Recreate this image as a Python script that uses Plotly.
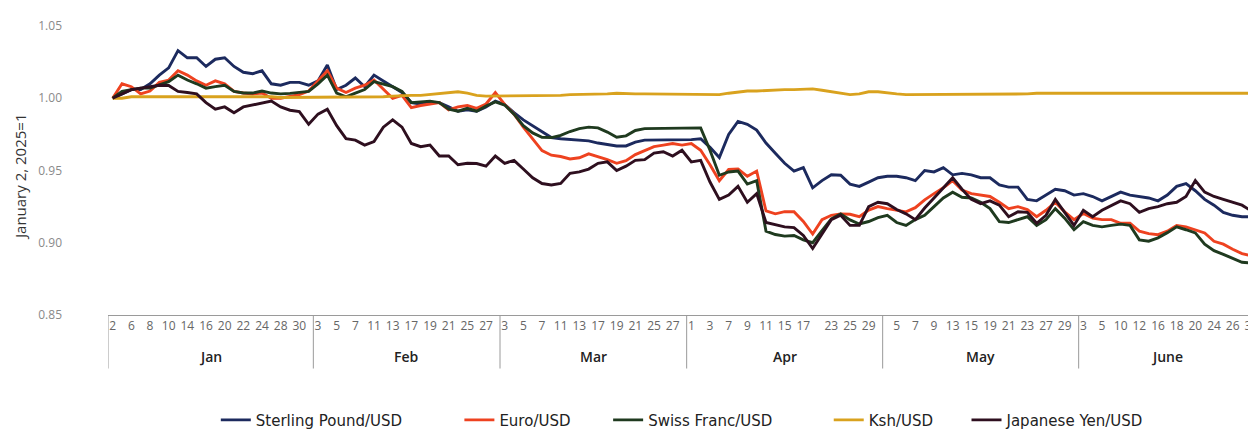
import plotly.graph_objects as go

# ---------------- data ----------------
months = ["Jan", "Feb", "Mar", "Apr", "May", "June"]
days_jan = [2, 3, 6, 7, 8, 9, 10, 13, 14, 15, 16, 17, 20, 21, 22, 23, 24, 27, 28, 29, 30, 31]
days_feb = [3, 4, 5, 6, 7, 10, 11, 12, 13, 14, 17, 18, 19, 20, 21, 24, 25, 26, 27, 28]
days_mar = [3, 4, 5, 6, 7, 10, 11, 12, 13, 14, 17, 18, 19, 20, 21, 24, 25, 26, 27, 28]
days_apr = [1, 2, 3, 4, 7, 8, 9, 10, 11, 14, 15, 16, 17, 21, 22, 23, 24, 25, 28, 29, 30]
days_may = [2, 5, 6, 7, 8, 9, 12, 13, 14, 15, 16, 19, 20, 21, 22, 23, 26, 27, 28, 29, 30]
days_jun = [3, 4, 5, 9, 10, 11, 12, 13, 16, 17, 18, 19, 20, 23, 24, 25, 26, 27, 30]
days_by_month = [days_jan, days_feb, days_mar, days_apr, days_may, days_jun]

# day numbers printed on the axis, per month
labels_jan = [2, 6, 8, 10, 14, 16, 20, 22, 24, 28, 30]
labels_feb = [3, 5, 7, 11, 13, 17, 19, 21, 25, 27]
labels_mar = [3, 5, 7, 11, 13, 17, 19, 21, 25, 27]
labels_apr = [1, 3, 7, 9, 11, 15, 17, 23, 25, 29]
labels_may = [5, 7, 9, 13, 15, 19, 21, 23, 27, 29]
labels_jun = [3, 5, 10, 12, 16, 18, 20, 24, 26, 30]
labels_by_month = [labels_jan, labels_feb, labels_mar, labels_apr, labels_may, labels_jun]

sterling = [
    1.000, 1.003, 1.006, 1.006, 1.010, 1.016, 1.021, 1.033, 1.028, 1.028, 1.022, 1.027, 1.028, 1.022, 1.018, 1.017, 1.019, 1.010, 1.009, 1.011, 1.011, 1.009,
    1.012, 1.023, 1.006, 1.009, 1.014, 1.008, 1.016, 1.012, 1.008, 1.004, 0.997, 0.996, 0.997, 0.997, 0.994, 0.991, 0.992, 0.991, 0.994, 0.998,
    0.9957, 0.990, 0.985, 0.981, 0.9766, 0.9728, 0.972, 0.9714, 0.971, 0.9705, 0.969, 0.968, 0.967, 0.967, 0.9696, 0.971, 0.971, 0.971, 0.971, 0.971,
    0.9714, 0.972, 0.966, 0.959, 0.975, 0.984, 0.982, 0.978, 0.969, 0.962, 0.955, 0.9496, 0.952, 0.938, 0.943, 0.947, 0.9467, 0.9406, 0.939, 0.942, 0.945,
    0.946, 0.946, 0.945, 0.943, 0.950, 0.949, 0.952, 0.947, 0.948, 0.947, 0.945, 0.945, 0.940, 0.9385, 0.9385, 0.930, 0.929, 0.933, 0.937, 0.936, 0.933,
    0.934, 0.932, 0.929, 0.932, 0.935, 0.933, 0.932, 0.931, 0.929, 0.933, 0.939, 0.941, 0.936, 0.930, 0.926, 0.921, 0.919, 0.918, 0.918,
]
euro = [
    1.000, 1.010, 1.008, 1.003, 1.005, 1.011, 1.0126, 1.019, 1.016, 1.012, 1.009, 1.012, 1.010, 1.0047, 1.0036, 1.003, 1.0036, 1.000, 1.000, 1.001, 1.0025, 1.005,
    1.012, 1.019, 1.007, 1.004, 1.007, 1.009, 1.0126, 1.006, 1.000, 1.002, 0.9935, 0.995, 0.996, 0.997, 0.992, 0.994, 0.995, 0.993, 0.996, 1.004,
    0.9957, 0.989, 0.980, 0.972, 0.9638, 0.9606, 0.9597, 0.958, 0.9588, 0.9615, 0.9597, 0.9575, 0.955, 0.9568, 0.961, 0.964, 0.9665, 0.9676, 0.9687, 0.9676,
    0.9687, 0.964, 0.954, 0.943, 0.9507, 0.951, 0.946, 0.9496, 0.922, 0.920, 0.9215, 0.9215, 0.9147, 0.906, 0.916, 0.919, 0.920, 0.9197, 0.918, 0.9226, 0.925,
    0.9236, 0.9225, 0.9214, 0.9243, 0.9297, 0.934, 0.938, 0.943, 0.9365, 0.934, 0.933, 0.932, 0.928, 0.9236, 0.925, 0.923, 0.918, 0.9225, 0.928, 0.9214, 0.916,
    0.9203, 0.917, 0.916, 0.916, 0.9135, 0.9135, 0.908, 0.9063, 0.9056, 0.908, 0.912, 0.911, 0.909, 0.9068, 0.901, 0.899, 0.8955, 0.8925, 0.891,
]
swiss = [
    1.000, 1.0047, 1.006, 1.007, 1.007, 1.009, 1.0115, 1.016, 1.0126, 1.010, 1.007, 1.008, 1.009, 1.0047, 1.0036, 1.0036, 1.005, 1.0036, 1.003, 1.0034, 1.004, 1.0047,
    1.010, 1.016, 1.0036, 1.001, 1.0036, 1.006, 1.0115, 1.010, 1.008, 1.0047, 0.997, 0.9975, 0.998, 0.997, 0.9924, 0.991, 0.993, 0.991, 0.9946, 0.9975,
    0.9953, 0.989, 0.981, 0.976, 0.973, 0.9728, 0.9743, 0.977, 0.979, 0.980, 0.9795, 0.9766, 0.973, 0.974, 0.9777, 0.979, 0.979, 0.979, 0.979, 0.979,
    0.979, 0.9795, 0.964, 0.9467, 0.949, 0.9496, 0.9406, 0.943, 0.908, 0.9057, 0.9046, 0.905, 0.902, 0.900, 0.9084, 0.9165, 0.920, 0.9158, 0.913, 0.9147, 0.9174,
    0.919, 0.914, 0.912, 0.916, 0.919, 0.925, 0.931, 0.935, 0.9315, 0.931, 0.928, 0.9236, 0.9146, 0.914, 0.9162, 0.918, 0.912, 0.916, 0.9236, 0.917, 0.909,
    0.9146, 0.912, 0.911, 0.912, 0.9129, 0.912, 0.902, 0.9011, 0.9034, 0.907, 0.911, 0.909, 0.9068, 0.899, 0.8945, 0.892, 0.889, 0.8865, 0.886,
]
ksh = [
    1.000, 1.000, 1.001, 1.001, 1.001, 1.001, 1.0015, 1.0015, 1.0015, 1.0015, 1.0015, 1.0015, 1.001, 1.001, 1.001, 1.001, 1.001, 1.001, 1.0005, 1.0005, 1.0005, 1.001,
    1.001, 1.001, 1.001, 1.001, 1.001, 1.001, 1.0005, 1.001, 1.0015, 1.002, 1.002, 1.002, 1.0025, 1.003, 1.004, 1.0045, 1.0035, 1.002, 1.0015, 1.0015,
    1.0015, 1.0015, 1.0015, 1.0015, 1.0015, 1.0015, 1.002, 1.0025, 1.0025, 1.0025, 1.003, 1.003, 1.0035, 1.003, 1.003, 1.003, 1.003, 1.003, 1.0025, 1.0025,
    1.0025, 1.0025, 1.0025, 1.0025, 1.0035, 1.0045, 1.005, 1.005, 1.0055, 1.0055, 1.006, 1.006, 1.006, 1.0065, 1.0055, 1.0045, 1.003, 1.0025, 1.003, 1.0045, 1.0045,
    1.0035, 1.003, 1.0025, 1.0025, 1.0025, 1.0025, 1.0025, 1.003, 1.003, 1.003, 1.003, 1.003, 1.003, 1.003, 1.003, 1.003, 1.0035, 1.0035, 1.0035, 1.0035, 1.0035,
    1.0035, 1.0035, 1.0035, 1.0035, 1.0035, 1.0035, 1.0035, 1.0035, 1.0035, 1.004, 1.004, 1.004, 1.004, 1.004, 1.004, 1.004, 1.004, 1.004, 1.0035,
]
yen = [
    1.000, 1.003, 1.006, 1.007, 1.008, 1.009, 1.0088, 1.0047, 1.004, 1.003, 0.997, 0.9924, 0.994, 0.990, 0.994, 0.9953, 0.997, 0.998, 0.994, 0.9917, 0.9908, 0.982,
    0.989, 0.9924, 0.981, 0.972, 0.971, 0.9676, 0.970, 0.980, 0.985, 0.980, 0.9687, 0.9665, 0.9676, 0.960, 0.960, 0.954, 0.955, 0.9548, 0.953, 0.960,
    0.955, 0.957, 0.951, 0.945, 0.941, 0.940, 0.941, 0.948, 0.949, 0.951, 0.955, 0.956, 0.950, 0.953, 0.957, 0.9575, 0.962, 0.963, 0.960, 0.964,
    0.956, 0.957, 0.942, 0.930, 0.933, 0.939, 0.928, 0.934, 0.914, 0.9125, 0.911, 0.9105, 0.905, 0.896, 0.906, 0.916, 0.919, 0.912, 0.912, 0.925, 0.928,
    0.927, 0.923, 0.920, 0.916, 0.924, 0.931, 0.938, 0.945, 0.937, 0.930, 0.927, 0.929, 0.926, 0.918, 0.9214, 0.921, 0.9135, 0.919, 0.930, 0.9214, 0.912,
    0.9225, 0.918, 0.9225, 0.926, 0.929, 0.927, 0.921, 0.9236, 0.925, 0.927, 0.928, 0.932, 0.943, 0.935, 0.932, 0.930, 0.928, 0.926, 0.922,
]

series_names = ["Sterling Pound/USD", "Euro/USD", "Swiss Franc/USD", "Ksh/USD", "Japanese Yen/USD"]
series_values = [sterling, euro, swiss, ksh, yen]
series_colors = ["#1c2a5e", "#ee4220", "#1f3a1f", "#d9a21e", "#2e0f1f"]

y_ticks = [0.85, 0.90, 0.95, 1.00, 1.05]

# ---------------- build category positions ----------------
x_idx = []
tickvals, ticktext = [], []
month_bounds = [-0.5]
month_centers = []
pos = 0
for m, days, labs in zip(months, days_by_month, labels_by_month):
    start = pos
    for d in days:
        x_idx.append(pos)
        if d in labs:
            tickvals.append(pos)
            ticktext.append(str(d))
        pos += 1
    month_bounds.append(pos - 0.5)
    month_centers.append((start + pos - 1) / 2)

FONT = "Open Sans"
LEGFONT = "DejaVu Sans"
plot_w = 1256 - 100 - 6
plot_h = 434 - 18 - 119

# legend entry left edges (pixels) so that the entries spread like the original
legend_px = [208, 452, 601, 822, 960]

n = len(x_idx)
fig = go.Figure()
layout_legends = {}
for k, (name, vals, col) in enumerate(zip(series_names, series_values, series_colors)):
    lg = "legend" if k == 0 else f"legend{k + 1}"
    fig.add_trace(go.Scatter(x=x_idx, y=vals[:n], mode="lines", name=name, legend=lg,
                             line=dict(color=col, width=2.9)))
    layout_legends[lg] = dict(orientation="h", x=(legend_px[k] - 100) / plot_w, xanchor="left",
                              y=-(423 - 315) / plot_h, yanchor="middle",
                              font=dict(family=LEGFONT, size=15, color="#222222"),
                              itemwidth=30, bgcolor="rgba(0,0,0,0)")

shapes = []
for b in month_bounds:
    shapes.append(dict(type="line", xref="x", yref="paper", x0=b, x1=b,
                       y0=0, y1=-55 / plot_h, line=dict(color="#9a9a9a", width=1)))

annotations = []
for m, c in zip(months, month_centers):
    annotations.append(dict(text=m, x=c, xref="x", y=-43 / plot_h, yref="paper",
                            showarrow=False, yanchor="middle",
                            font=dict(family=FONT, size=14, color="#222222", weight=600)))
annotations.append(dict(text="January 2, 2025=1", textangle=-90, x=(12 - 100) / plot_w,
                        xref="paper", y=(315 - 173) / plot_h, yref="paper",
                        showarrow=False, xanchor="center", yanchor="middle",
                        font=dict(family=FONT, size=15, color="#333333")))

fig.update_layout(
    width=1256, height=434,
    margin=dict(l=100, r=6, t=18, b=119),
    paper_bgcolor="white", plot_bgcolor="white",
    shapes=shapes, annotations=annotations,
    showlegend=True,
    xaxis=dict(range=[-0.5, n - 0.5], tickmode="array", tickvals=tickvals, ticktext=ticktext,
               showgrid=False, zeroline=False, showline=True, linecolor="#9a9a9a", linewidth=1,
               ticks="", ticklabeloverflow="allow",
               tickfont=dict(family=FONT, size=12, color="#666666")),
    yaxis=dict(range=[0.85, 1.05], tickmode="array", tickvals=y_ticks,
               ticktext=[f"{v:.2f}" for v in y_ticks], showgrid=False, zeroline=False,
               showline=False, ticks="", ticklabelstandoff=45,
               tickfont=dict(family=FONT, size=12, color="#8a8a8a")),
    **layout_legends,
)

fig.write_html("out.html")
